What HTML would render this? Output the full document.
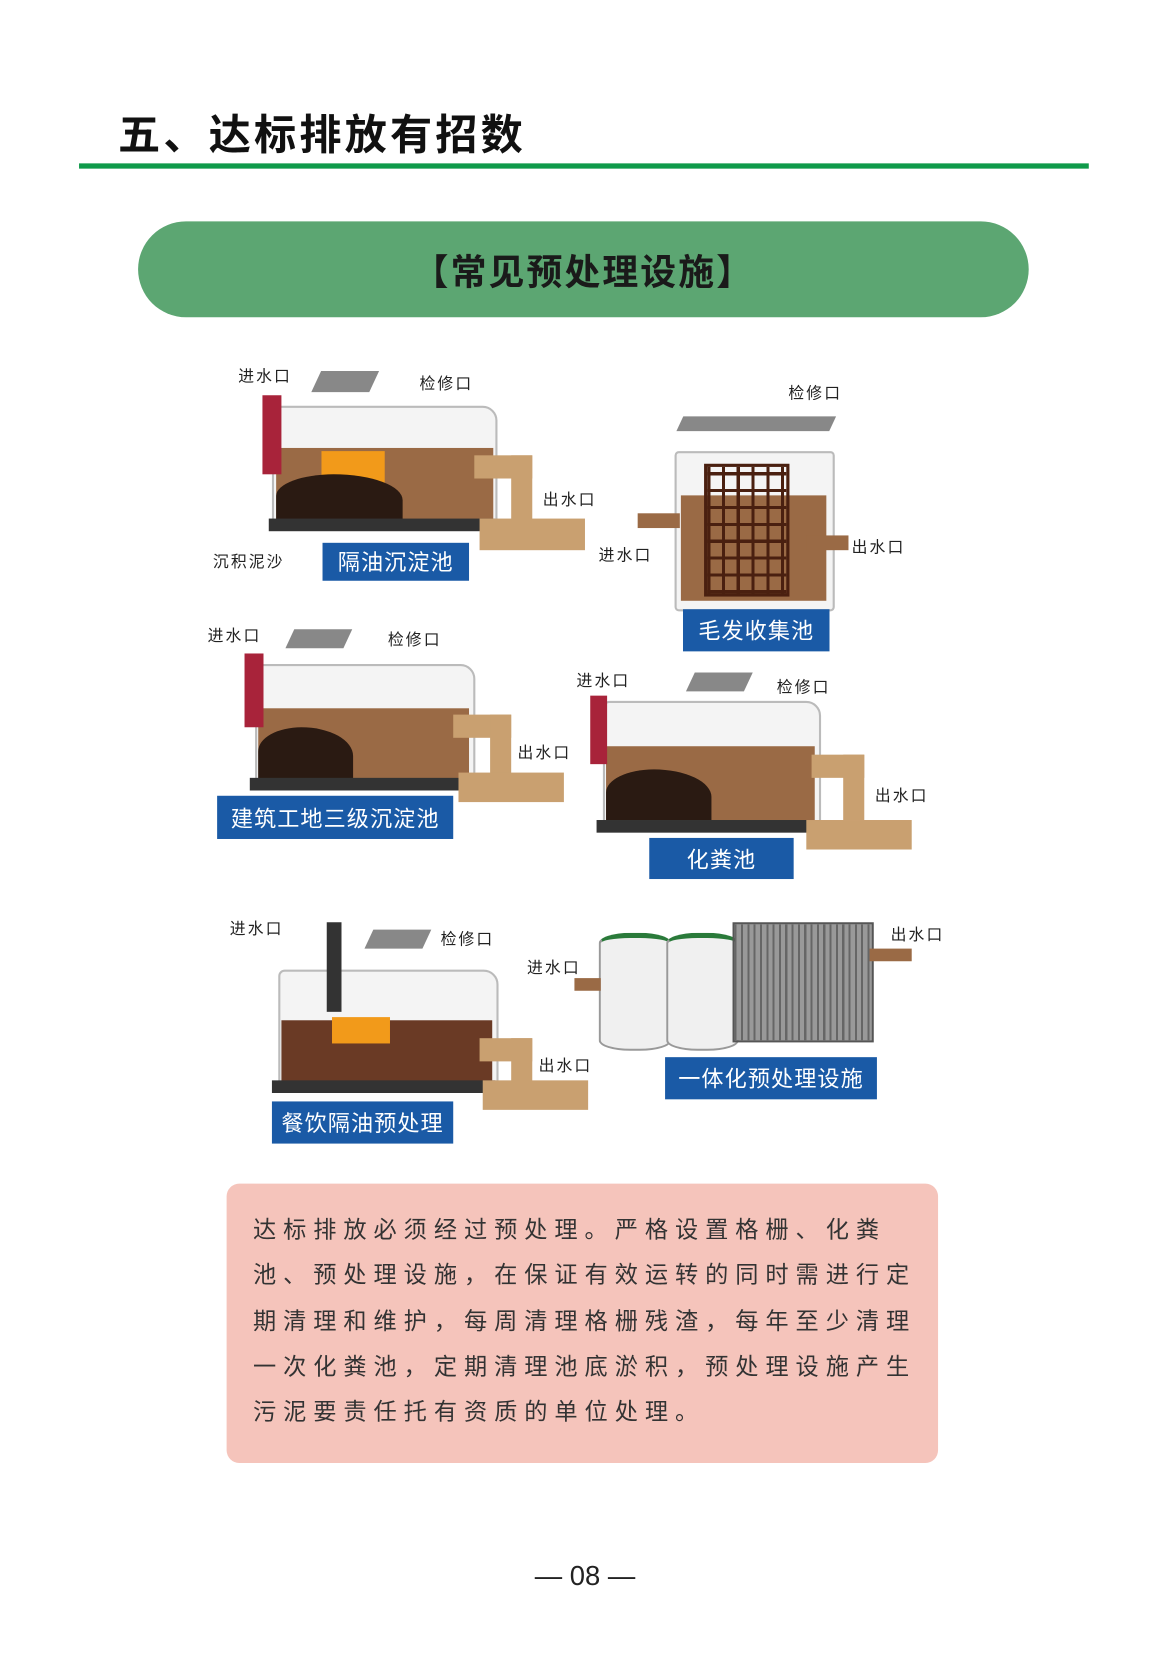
<!DOCTYPE html>
<html><head><meta charset="utf-8"><style>
body{margin:0;width:1169px;height:1654px;overflow:hidden;background:#fff;font-family:"Liberation Sans","Noto Sans CJK SC",sans-serif;}
#w{position:absolute;left:0;top:0;width:1100px;height:1556px;transform:scale(1.054);transform-origin:0 0;}
.a{position:absolute;}
.lb{position:absolute;background:#1a5aa6;color:#fff;font-size:21px;display:flex;align-items:center;justify-content:center;letter-spacing:1px;}
.t{position:absolute;font-size:15px;color:#222;letter-spacing:2px;white-space:nowrap;}
.box{position:absolute;border:2px solid #bbb;background:#f4f4f4;border-radius:6px 14px 4px 4px;}
.br{position:absolute;background:#9a6a45;}
.sl{position:absolute;background:#2a1a12;border-radius:50% 60% 0 0;}
.base{position:absolute;background:#333;}
.pipe{position:absolute;background:#c9a070;}
.red{position:absolute;background:#a8233a;}
.lid{position:absolute;background:#888;transform:skewX(-25deg);}
</style></head><body><div id="w">
<div class="a" style="left:112px;top:96px;font-size:40px;font-weight:bold;color:#111;letter-spacing:3px;">五、达标排放有招数</div>
<div class="a" style="left:75px;top:155px;width:958px;height:5px;background:#0f9a4a;"></div>
<div class="a" style="left:131px;top:210px;width:845px;height:91px;background:#5ca672;border-radius:46px;display:flex;align-items:center;justify-content:center;font-size:34px;font-weight:bold;color:#1a1a1a;letter-spacing:2px;">【常见预处理设施】</div>

<!-- tank 1 -->
<div class="box" style="left:258px;top:385px;width:210px;height:112px;"></div>
<div class="br" style="left:262px;top:425px;width:206px;height:70px;"></div>
<div class="a" style="left:305px;top:428px;width:60px;height:30px;background:#f29a1a;"></div>
<div class="sl" style="left:262px;top:450px;width:120px;height:45px;"></div>
<div class="base" style="left:255px;top:492px;width:215px;height:12px;"></div>
<div class="red" style="left:249px;top:375px;width:18px;height:75px;"></div>
<div class="lid" style="left:300px;top:352px;width:55px;height:20px;"></div>
<div class="pipe" style="left:450px;top:432px;width:55px;height:22px;"></div>
<div class="pipe" style="left:485px;top:432px;width:20px;height:70px;"></div>
<div class="pipe" style="left:455px;top:492px;width:100px;height:30px;"></div>
<div class="t" style="left:226px;top:346px;">进水口</div>
<div class="t" style="left:398px;top:353px;">检修口</div>
<div class="t" style="left:515px;top:463px;">出水口</div>
<div class="t" style="left:202px;top:522px;">沉积泥沙</div>
<div class="lb" style="left:306px;top:515px;width:139px;height:36px;">隔油沉淀池</div>

<!-- tank 2 -->
<div class="lid" style="left:645px;top:395px;width:145px;height:14px;"></div>
<div class="box" style="left:640px;top:428px;width:148px;height:148px;border-radius:4px;"></div>
<div class="br" style="left:646px;top:470px;width:138px;height:100px;"></div>
<div class="a" style="left:668px;top:440px;width:75px;height:120px;border:3px solid #4a2010;background:repeating-linear-gradient(90deg,#4a2010 0 3px,transparent 3px 14px),repeating-linear-gradient(0deg,#4a2010 0 3px,transparent 3px 16px);"></div>
<div class="pipe" style="left:605px;top:487px;width:40px;height:14px;background:#9a6a45;"></div>
<div class="pipe" style="left:765px;top:508px;width:40px;height:14px;background:#9a6a45;"></div>
<div class="t" style="left:748px;top:362px;">检修口</div>
<div class="t" style="left:568px;top:516px;">进水口</div>
<div class="t" style="left:808px;top:508px;">出水口</div>
<div class="lb" style="left:648px;top:578px;width:139px;height:40px;">毛发收集池</div>

<!-- tank 3 -->
<div class="box" style="left:242px;top:630px;width:205px;height:112px;"></div>
<div class="br" style="left:245px;top:672px;width:200px;height:70px;"></div>
<div class="sl" style="left:245px;top:690px;width:90px;height:50px;"></div>
<div class="base" style="left:237px;top:738px;width:210px;height:12px;"></div>
<div class="red" style="left:232px;top:620px;width:18px;height:70px;"></div>
<div class="lid" style="left:275px;top:597px;width:55px;height:18px;"></div>
<div class="pipe" style="left:430px;top:678px;width:55px;height:22px;"></div>
<div class="pipe" style="left:465px;top:678px;width:20px;height:62px;"></div>
<div class="pipe" style="left:435px;top:733px;width:100px;height:28px;"></div>
<div class="t" style="left:197px;top:592px;">进水口</div>
<div class="t" style="left:368px;top:596px;">检修口</div>
<div class="t" style="left:491px;top:703px;">出水口</div>
<div class="lb" style="left:206px;top:755px;width:224px;height:41px;">建筑工地三级沉淀池</div>

<!-- tank 4 -->
<div class="box" style="left:572px;top:665px;width:203px;height:115px;"></div>
<div class="br" style="left:575px;top:708px;width:198px;height:72px;"></div>
<div class="sl" style="left:575px;top:730px;width:100px;height:48px;"></div>
<div class="base" style="left:566px;top:778px;width:212px;height:12px;"></div>
<div class="red" style="left:560px;top:660px;width:16px;height:65px;"></div>
<div class="lid" style="left:655px;top:638px;width:55px;height:18px;"></div>
<div class="pipe" style="left:770px;top:716px;width:50px;height:22px;"></div>
<div class="pipe" style="left:800px;top:716px;width:20px;height:62px;"></div>
<div class="pipe" style="left:765px;top:778px;width:100px;height:28px;"></div>
<div class="t" style="left:547px;top:635px;">进水口</div>
<div class="t" style="left:737px;top:641px;">检修口</div>
<div class="t" style="left:830px;top:744px;">出水口</div>
<div class="lb" style="left:616px;top:795px;width:137px;height:39px;">化粪池</div>

<!-- tank 5 -->
<div class="box" style="left:264px;top:920px;width:205px;height:112px;"></div>
<div class="br" style="left:267px;top:968px;width:200px;height:62px;background:#6a3a25;"></div>
<div class="a" style="left:315px;top:965px;width:55px;height:25px;background:#f29a1a;"></div>
<div class="base" style="left:258px;top:1025px;width:212px;height:12px;"></div>
<div class="a" style="left:310px;top:875px;width:14px;height:85px;background:#333;"></div>
<div class="lid" style="left:350px;top:882px;width:55px;height:18px;"></div>
<div class="pipe" style="left:455px;top:985px;width:50px;height:22px;"></div>
<div class="pipe" style="left:485px;top:985px;width:20px;height:50px;"></div>
<div class="pipe" style="left:458px;top:1025px;width:100px;height:28px;"></div>
<div class="t" style="left:218px;top:870px;">进水口</div>
<div class="t" style="left:418px;top:880px;">检修口</div>
<div class="t" style="left:511px;top:1000px;">出水口</div>
<div class="lb" style="left:258px;top:1045px;width:172px;height:40px;">餐饮隔油预处理</div>

<!-- integrated -->
<div class="a" style="left:568px;top:885px;width:65px;height:105px;background:#f0f0f0;border:2px solid #999;border-top:5px solid #2a7a3a;border-radius:30px/10px;"></div>
<div class="a" style="left:632px;top:885px;width:65px;height:105px;background:#f0f0f0;border:2px solid #999;border-top:5px solid #2a7a3a;border-radius:30px/10px;"></div>
<div class="a" style="left:695px;top:875px;width:130px;height:110px;background:repeating-linear-gradient(90deg,#666 0 2px,#999 2px 6px);border:2px solid #555;"></div>
<div class="pipe" style="left:545px;top:928px;width:25px;height:12px;background:#9a6a45;"></div>
<div class="pipe" style="left:825px;top:900px;width:40px;height:12px;background:#9a6a45;"></div>
<div class="t" style="left:500px;top:907px;">进水口</div>
<div class="t" style="left:845px;top:876px;">出水口</div>
<div class="lb" style="left:631px;top:1003px;width:201px;height:40px;">一体化预处理设施</div>

<!-- pink -->
<div class="a" style="left:215px;top:1123px;width:675px;height:265px;background:#f5c4bb;border-radius:12px;"></div>
<div class="a" style="left:240px;top:1145px;width:648px;font-size:22px;line-height:43.3px;letter-spacing:6.6px;color:#333;">达标排放必须经过预处理。严格设置格栅、化粪池、预处理设施，在保证有效运转的同时需进行定期清理和维护，每周清理格栅残渣，每年至少清理一次化粪池，定期清理池底淤积，预处理设施产生污泥要责任托有资质的单位处理。</div>

<div class="a" style="left:0;top:1480px;width:1110px;text-align:center;font-size:26px;color:#222;">— 08 —</div>
</div></body></html>
